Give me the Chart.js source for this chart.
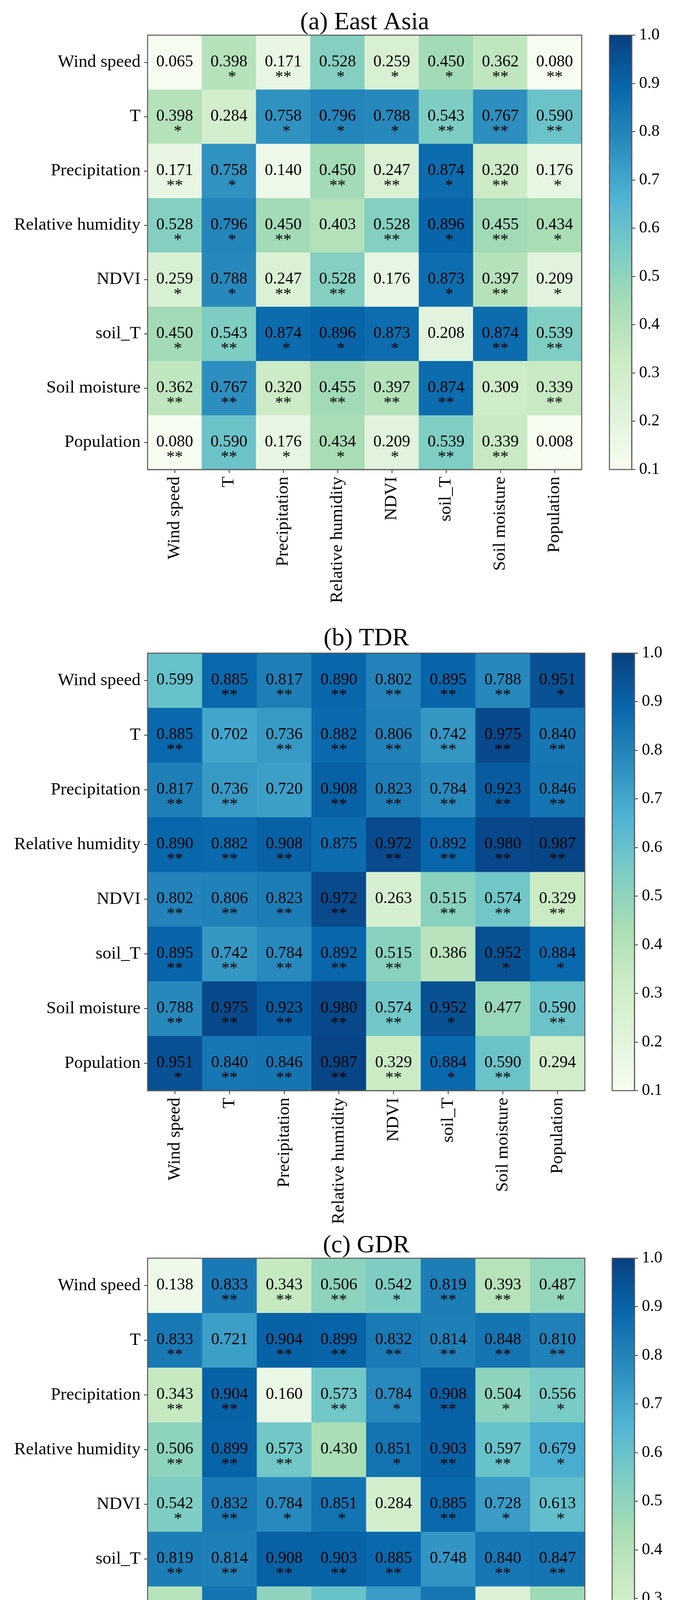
<!DOCTYPE html>
<html>
<head>
<meta charset="utf-8">
<script src="https://cdn.jsdelivr.net/npm/chart.js@4.4.1/dist/chart.umd.min.js"></script>
<style>
  html, body { margin: 0; padding: 0; background: #ffffff; }
  body { width: 1752px; height: 4725px; position: relative; overflow: hidden; }
  canvas { position: absolute; display: block; }
</style>
</head>
<body>
<canvas id="hmA"></canvas><canvas id="cbA"></canvas>
<canvas id="hmB"></canvas><canvas id="cbB"></canvas>
<canvas id="hmC"></canvas><canvas id="cbC"></canvas>
<script>
// ---------------- DATA ----------------
const variables = ["Wind speed", "T", "Precipitation", "Relative humidity", "NDVI", "soil_T", "Soil moisture", "Population"];

const panelTitles = ["(a) East Asia", "(b) TDR", "(c) GDR"];

const eastAsiaValues = [
  [0.065, 0.398, 0.171, 0.528, 0.259, 0.450, 0.362, 0.080],
  [0.398, 0.284, 0.758, 0.796, 0.788, 0.543, 0.767, 0.590],
  [0.171, 0.758, 0.140, 0.450, 0.247, 0.874, 0.320, 0.176],
  [0.528, 0.796, 0.450, 0.403, 0.528, 0.896, 0.455, 0.434],
  [0.259, 0.788, 0.247, 0.528, 0.176, 0.873, 0.397, 0.209],
  [0.450, 0.543, 0.874, 0.896, 0.873, 0.208, 0.874, 0.539],
  [0.362, 0.767, 0.320, 0.455, 0.397, 0.874, 0.309, 0.339],
  [0.080, 0.590, 0.176, 0.434, 0.209, 0.539, 0.339, 0.008]
];
const eastAsiaSig = [
  ["", "*", "**", "*", "*", "*", "**", "**"],
  ["*", "", "*", "*", "*", "**", "**", "**"],
  ["**", "*", "", "**", "**", "*", "**", "*"],
  ["*", "*", "**", "", "**", "*", "**", "*"],
  ["*", "*", "**", "**", "", "*", "**", "*"],
  ["*", "**", "*", "*", "*", "", "**", "**"],
  ["**", "**", "**", "**", "**", "**", "", "**"],
  ["**", "**", "*", "*", "*", "**", "**", ""]
];

const tdrValues = [
  [0.599, 0.885, 0.817, 0.890, 0.802, 0.895, 0.788, 0.951],
  [0.885, 0.702, 0.736, 0.882, 0.806, 0.742, 0.975, 0.840],
  [0.817, 0.736, 0.720, 0.908, 0.823, 0.784, 0.923, 0.846],
  [0.890, 0.882, 0.908, 0.875, 0.972, 0.892, 0.980, 0.987],
  [0.802, 0.806, 0.823, 0.972, 0.263, 0.515, 0.574, 0.329],
  [0.895, 0.742, 0.784, 0.892, 0.515, 0.386, 0.952, 0.884],
  [0.788, 0.975, 0.923, 0.980, 0.574, 0.952, 0.477, 0.590],
  [0.951, 0.840, 0.846, 0.987, 0.329, 0.884, 0.590, 0.294]
];
const tdrSig = [
  ["", "**", "**", "**", "**", "**", "**", "*"],
  ["**", "", "**", "**", "**", "**", "**", "**"],
  ["**", "**", "", "**", "**", "**", "**", "**"],
  ["**", "**", "**", "", "**", "**", "**", "**"],
  ["**", "**", "**", "**", "", "**", "**", "**"],
  ["**", "**", "**", "**", "**", "", "*", "*"],
  ["**", "**", "**", "**", "**", "*", "", "**"],
  ["*", "**", "**", "**", "**", "*", "**", ""]
];

const gdrValues = [
  [0.138, 0.833, 0.343, 0.506, 0.542, 0.819, 0.393, 0.487],
  [0.833, 0.721, 0.904, 0.899, 0.832, 0.814, 0.848, 0.810],
  [0.343, 0.904, 0.160, 0.573, 0.784, 0.908, 0.504, 0.556],
  [0.506, 0.899, 0.573, 0.430, 0.851, 0.903, 0.597, 0.679],
  [0.542, 0.832, 0.784, 0.851, 0.284, 0.885, 0.728, 0.613],
  [0.819, 0.814, 0.908, 0.903, 0.885, 0.748, 0.840, 0.847],
  [0.393, 0.848, 0.504, 0.597, 0.728, 0.840, 0.245, 0.459],
  [0.487, 0.810, 0.556, 0.679, 0.613, 0.847, 0.459, 0.152]
];
const gdrSig = [
  ["", "**", "**", "**", "*", "**", "**", "*"],
  ["**", "", "**", "**", "**", "**", "**", "**"],
  ["**", "**", "", "**", "*", "**", "*", "*"],
  ["**", "**", "**", "", "*", "**", "**", "*"],
  ["*", "**", "*", "*", "", "**", "*", "*"],
  ["**", "**", "**", "**", "**", "", "**", "**"],
  ["**", "**", "*", "**", "*", "**", "", "*"],
  ["*", "**", "*", "*", "*", "**", "*", ""]
];

const colorbarMin = 0.1;
const colorbarMax = 1.0;
const colorbarTicks = [0.1, 0.2, 0.3, 0.4, 0.5, 0.6, 0.7, 0.8, 0.9, 1.0];

// GnBu colour map (ColorBrewer, as used by matplotlib)
const GNBU = ["#f7fcf0", "#e0f3db", "#ccebc5", "#a8ddb5", "#7bccc4", "#4eb3d3", "#2b8cbe", "#0868ac", "#084081"];

// ---------------- HELPERS ----------------
const FONT = '"Liberation Serif", "Times New Roman", Times, serif';

function hexToRgb(h) {
  const n = parseInt(h.slice(1), 16);
  return [(n >> 16) & 255, (n >> 8) & 255, n & 255];
}
const GNBU_RGB = GNBU.map(hexToRgb);

function colorFor(v) {
  let t = (v - colorbarMin) / (colorbarMax - colorbarMin);
  t = Math.max(0, Math.min(1, t));
  const p = t * (GNBU_RGB.length - 1);
  const i = Math.min(Math.floor(p), GNBU_RGB.length - 2);
  const f = p - i;
  const a = GNBU_RGB[i], b = GNBU_RGB[i + 1];
  const c = a.map((x, k) => Math.round(x + (b[k] - x) * f));
  return `rgb(${c[0]},${c[1]},${c[2]})`;
}

const SPINE = '#555555';
const TICKCOL = '#333333';

const framePlugin = {
  id: 'frame',
  afterDatasetsDraw(chart) {
    const a = chart.chartArea, ctx = chart.ctx;
    ctx.save();
    ctx.strokeStyle = SPINE;
    ctx.lineWidth = 2.5;
    ctx.strokeRect(a.left, a.top, a.right - a.left, a.bottom - a.top);
    ctx.restore();
  }
};

const cellTextPlugin = {
  id: 'cellText',
  afterDatasetsDraw(chart) {
    const ctx = chart.ctx;
    ctx.save();
    ctx.fillStyle = '#000';
    ctx.textAlign = 'center';
    ctx.textBaseline = 'alphabetic';
    ctx.font = `42px ${FONT}`;
    chart.data.datasets.forEach((ds, r) => {
      const meta = chart.getDatasetMeta(r);
      meta.data.forEach((el, c) => {
        const p = el.getCenterPoint();
        ctx.fillText(ds.cellValues[c].toFixed(3), p.x, p.y + 10);
        const s = ds.cellSig[c];
        if (s) ctx.fillText(s, p.x + (s.length === 1 ? 8 : 0), p.y + 50);
      });
    });
    ctx.restore();
  }
};

const titlePlugin = {
  id: 'panelTitle',
  afterDraw(chart, args, opts) {
    const a = chart.chartArea, ctx = chart.ctx;
    ctx.save();
    ctx.fillStyle = '#000';
    ctx.textAlign = 'center';
    ctx.textBaseline = 'alphabetic';
    ctx.font = `64px ${FONT}`;
    ctx.fillText(opts.text, (a.left + a.right) / 2, a.top - (opts.gap || 16));
    ctx.restore();
  }
};

const HM_W = 1530;
const LEFT_AXIS = 378;

function makeHeatmap(id, top, size, title, values, sig, gap) {
  const H = 90 + size + 380;
  const cv = document.getElementById(id);
  cv.width = HM_W; cv.height = H;
  cv.style.left = '0px'; cv.style.top = top + 'px';
  cv.style.width = HM_W + 'px'; cv.style.height = H + 'px';
  return new Chart(cv, {
    type: 'bar',
    data: {
      labels: variables,
      datasets: variables.map((name, r) => ({
        label: name,
        data: values[r].map(() => 1),
        cellValues: values[r],
        cellSig: sig[r],
        backgroundColor: values[r].map(colorFor),
        borderWidth: 0,
        barPercentage: 1,
        categoryPercentage: 1
      }))
    },
    options: {
      responsive: false,
      animation: false,
      devicePixelRatio: 1,
      layout: { padding: { top: 90, left: 0, right: HM_W - LEFT_AXIS - size, bottom: 0 } },
      plugins: {
        legend: { display: false },
        tooltip: { enabled: false },
        panelTitle: { text: title, gap: gap }
      },
      scales: {
        x: {
          type: 'category',
          stacked: true,
          offset: true,
          grid: { display: true, offset: false, drawOnChartArea: false, drawTicks: true, tickLength: 9, color: TICKCOL, lineWidth: 2 },
          border: { display: true, color: SPINE, width: 2.5 },
          ticks: { font: { family: FONT, size: 45 }, color: '#000', minRotation: 90, maxRotation: 90, autoSkip: false, padding: 9 },
          afterFit: (s) => { s.height = H - 90 - size; }
        },
        y: {
          type: 'linear',
          stacked: true,
          reverse: true,
          min: 0,
          max: variables.length,
          afterBuildTicks: (s) => { s.ticks = variables.map((_, i) => ({ value: i + 0.5 })); },
          ticks: { callback: (v) => variables[Math.floor(v)], font: { family: FONT, size: 45 }, color: '#000', padding: 9 },
          grid: { display: true, drawOnChartArea: false, drawTicks: true, tickLength: 9, color: TICKCOL, lineWidth: 2 },
          border: { display: true, color: SPINE, width: 2.5 },
          afterFit: (s) => { s.width = LEFT_AXIS; }
        }
      }
    },
    plugins: [cellTextPlugin, framePlugin, titlePlugin]
  });
}

const CB_CANVAS_LEFT = 1530;
const CB_W = 222;
const CB_BAR = 57;

function makeColorbar(id, top, size, barLeft) {
  const H = 90 + size + 40;
  const cv = document.getElementById(id);
  cv.width = CB_W; cv.height = H;
  cv.style.left = CB_CANVAS_LEFT + 'px'; cv.style.top = top + 'px';
  cv.style.width = CB_W + 'px'; cv.style.height = H + 'px';
  const padLeft = barLeft - CB_CANVAS_LEFT;
  return new Chart(cv, {
    type: 'bar',
    data: {
      labels: ['colorbar'],
      datasets: [{
        data: [[colorbarMin, colorbarMax]],
        backgroundColor: (c) => {
          const ch = c.chart, a = ch.chartArea;
          if (!a) return GNBU[GNBU.length - 1];
          const g = ch.ctx.createLinearGradient(0, a.bottom, 0, a.top);
          GNBU.forEach((col, i) => g.addColorStop(i / (GNBU.length - 1), col));
          return g;
        },
        borderWidth: 0,
        barPercentage: 1,
        categoryPercentage: 1
      }]
    },
    options: {
      responsive: false,
      animation: false,
      devicePixelRatio: 1,
      layout: { padding: { top: 90, left: padLeft, right: 0, bottom: 40 } },
      plugins: { legend: { display: false }, tooltip: { enabled: false } },
      scales: {
        x: { display: false },
        y: {
          position: 'right',
          min: colorbarMin,
          max: colorbarMax,
          afterBuildTicks: (s) => { s.ticks = colorbarTicks.map(v => ({ value: v })); },
          ticks: { callback: (v) => v.toFixed(1), font: { family: FONT, size: 42 }, color: '#000', padding: 10 },
          grid: { display: true, drawOnChartArea: false, drawTicks: true, tickLength: 9, color: TICKCOL, lineWidth: 2 },
          border: { display: true, color: SPINE, width: 2.5 },
          afterFit: (s) => { s.width = CB_W - padLeft - CB_BAR; }
        }
      }
    },
    plugins: [framePlugin]
  });
}

// panel (a)
makeHeatmap('hmA', 0, 1112, panelTitles[0], eastAsiaValues, eastAsiaSig, 15);
makeColorbar('cbA', 0, 1112, 1561);
// panel (b)
makeHeatmap('hmB', 1582, 1120, panelTitles[1], tdrValues, tdrSig, 20);
makeColorbar('cbB', 1582, 1120, 1568);
// panel (c)
makeHeatmap('hmC', 3131, 1120, panelTitles[2], gdrValues, gdrSig, 15);
makeColorbar('cbC', 3131, 1120, 1568);
</script>
</body>
</html>
